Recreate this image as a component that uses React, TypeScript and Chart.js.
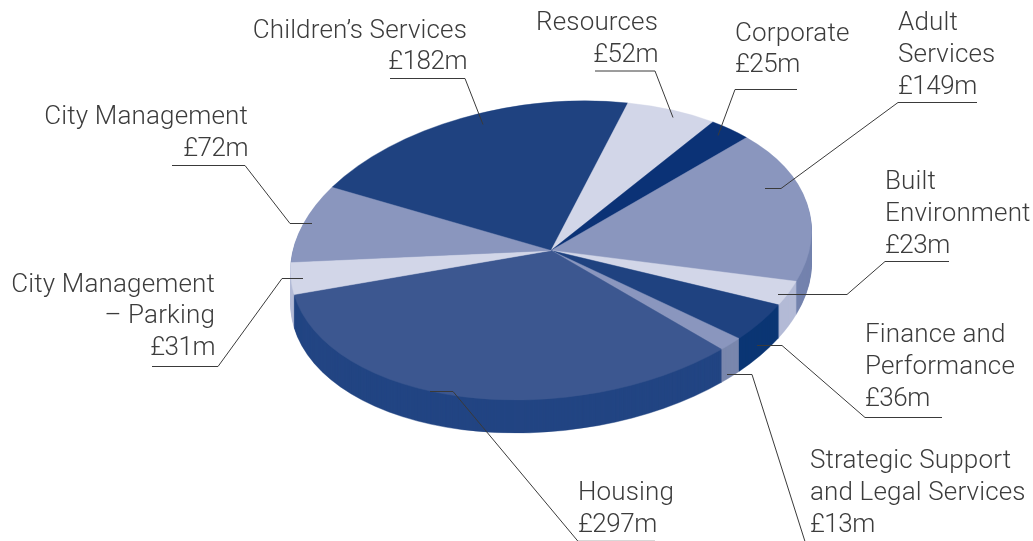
import React, { useEffect, useRef } from "react";
import { Chart, registerables } from "chart.js";

Chart.register(...registerables);

const categories = ["Children's Services", "Resources", "Corporate", "Adult Services", "Built Environment", "Finance and Performance", "Strategic Support and Legal Services", "Housing", "City Management – Parking", "City Management"];
const values = [182, 52, 25, 149, 23, 36, 13, 297, 31, 72];
const topColors = ["#1f4280", "#d2d6e8", "#0b3276", "#8a96be", "#d2d6e8", "#1f4280", "#8a96be", "#3c5790", "#d2d6e8", "#8a96be"];
const wallColors = ["#153570", "#b3bad6", "#0b3276", "#7482ae", "#b3bad6", "#0b3674", "#7a87ad", "#224583", "#b3bad6", "#7482ae"];

const FONT = "300 26px Roboto, 'Liberation Sans', sans-serif";
const TEXT = "#3c3c3c";

type Note = { align: CanvasTextAlign; x: number; lines: string[]; y: number[]; path: number[][] };
const notes: Note[] = [
  { align: "right", x: 467, lines: ["Children’s Services", "£182m"], y: [38, 69], path: [[390, 78], [465, 78], [483, 124]] },
  { align: "right", x: 658, lines: ["Resources", "£52m"], y: [30, 62], path: [[595, 70.5], [655, 70.5], [673, 117]] },
  { align: "left", x: 735, lines: ["Corporate", "£25m"], y: [41, 72], path: [[797, 89], [735, 89], [718, 135]] },
  { align: "left", x: 898, lines: ["Adult", "Services", "£149m"], y: [30, 62, 94], path: [[977, 102], [898, 102], [781, 188], [765, 188]] },
  { align: "left", x: 885, lines: ["Built", "Environment", "£23m"], y: [189, 221, 253], path: [[949, 261], [885, 261], [847, 294], [778, 294]] },
  { align: "left", x: 865, lines: ["Finance and", "Performance", "£36m"], y: [342, 374, 406], path: [[942, 417], [865, 417], [782, 345], [757, 345]] },
  { align: "left", x: 810, lines: ["Strategic Support", "and Legal Services", "£13m"], y: [468, 500, 532], path: [[727, 374], [752, 374], [805, 541]] },
  { align: "left", x: 578, lines: ["Housing", "£297m"], y: [500, 532], path: [[430, 391], [453, 391], [578, 540.8], [655, 540.8]] },
  { align: "right", x: 215, lines: ["City Management", "– Parking", "£31m"], y: [292, 323, 355], path: [[152, 366], [218, 366], [282, 278], [303, 278]] },
  { align: "right", x: 248, lines: ["City Management", "£72m"], y: [124, 156], path: [[172, 165], [245, 165], [290, 223], [312, 223]] },
];

const CENTER_X = 551;
const CENTER_Y = 250.5;
const U_X = 258;
const V_X = -35;
const V_Y = 149.5;
const DEPTH = 33;

function project(ctx: CanvasRenderingContext2D, chart: any, drop: number) {
  const arc = chart.getDatasetMeta(0).data[0] as any;
  const r = arc.outerRadius;
  ctx.translate(CENTER_X, CENTER_Y + drop);
  ctx.transform(U_X / r, 0, V_X / r, V_Y / r, 0, 0);
  ctx.translate(-arc.x, -arc.y);
}

const tiltedPie = {
  id: "tiltedPie",
  beforeDatasetDraw(chart: any) {
    const ctx = chart.ctx;
    const arcs = chart.getDatasetMeta(0).data as any[];
    for (let drop = DEPTH; drop >= 1; drop--) {
      ctx.save();
      project(ctx, chart, drop);
      arcs.forEach((arc, i) => {
        const base = arc.options;
        const o = Object.create(base);
        o.backgroundColor = wallColors[i];
        o.borderColor = wallColors[i];
        arc.options = o;
        arc.draw(ctx);
        arc.options = base;
      });
      ctx.restore();
    }
    ctx.save();
    project(ctx, chart, 0);
  },
  afterDatasetDraw(chart: any) {
    chart.ctx.restore();
  },
  afterDraw(chart: any) {
    const ctx = chart.ctx as any;
    ctx.save();
    ctx.strokeStyle = "#3a3a3a";
    ctx.lineWidth = 1;
    ctx.fillStyle = TEXT;
    ctx.font = FONT;
    ctx.textBaseline = "alphabetic";
    for (const n of notes) {
      ctx.beginPath();
      n.path.forEach(([x, y]: number[], i: number) => (i ? ctx.lineTo(x, y + 0.5) : ctx.moveTo(x, y + 0.5)));
      ctx.stroke();
      ctx.textAlign = n.align;
      n.lines.forEach((t, i) => {
        ctx.letterSpacing = t.startsWith("£") ? "-0.5px" : "0.15px";
        ctx.fillText(t, n.x, n.y[i]);
      });
    }
    ctx.restore();
  },
};

export default function App() {
  const ref = useRef<HTMLCanvasElement>(null);
  useEffect(() => {
    document.body.style.margin = "0";
    const chart = new Chart(ref.current!, {
      type: "pie",
      data: {
        labels: categories,
        datasets: [{
          data: values,
          backgroundColor: topColors,
          borderColor: topColors,
          borderWidth: 0.6,
          clip: false,
        } as any],
      },
      options: {
        responsive: false,
        animation: false,
        rotation: -65,
        layout: { padding: 0 },
        plugins: { legend: { display: false }, tooltip: { enabled: false } },
      },
      plugins: [tiltedPie],
    });
    return () => chart.destroy();
  }, []);
  return <canvas ref={ref} width={1033} height={541} style={{ display: "block", background: "#fff" }} />;
}
